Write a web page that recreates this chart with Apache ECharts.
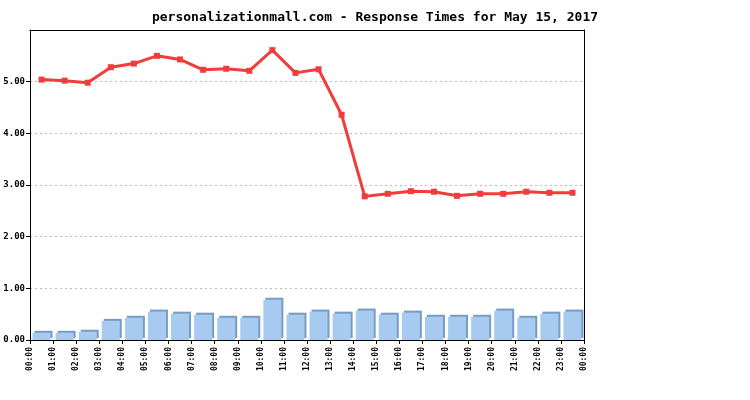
<!DOCTYPE html>
<html>
<head>
<meta charset="utf-8">
<script src="https://cdn.jsdelivr.net/npm/echarts@6/dist/echarts.min.js"></script>
<style>html,body{margin:0;padding:0;background:#fff}#c{width:750px;height:400px}</style>
</head>
<body>
<div id="c"></div>
<script>
const titleText = 'personalizationmall.com - Response Times for May 15, 2017';
const hourLabels = ['00:00','01:00','02:00','03:00','04:00','05:00','06:00','07:00','08:00','09:00','10:00','11:00','12:00','13:00','14:00','15:00','16:00','17:00','18:00','19:00','20:00','21:00','22:00','23:00','00:00'];
const responseTimes = [5.04,5.02,4.98,5.28,5.35,5.50,5.43,5.23,5.25,5.21,5.61,5.17,5.24,4.36,2.78,2.83,2.88,2.87,2.79,2.83,2.83,2.87,2.85,2.85];
const barValues = [0.14,0.14,0.16,0.37,0.43,0.55,0.51,0.49,0.43,0.43,0.78,0.49,0.55,0.51,0.57,0.49,0.53,0.45,0.45,0.45,0.57,0.43,0.51,0.55];

const mono = '"DejaVu Sans Mono", "Liberation Mono", monospace';
const chart = echarts.init(document.getElementById('c'), null, {renderer: 'canvas'});
const barData = barValues.map((v, i) => [i + 0.5, v]);
const lineData = responseTimes.map((v, i) => [i + 0.5, v]);
const frameAxis = {
  min: 0, axisLine: {show: true, onZero: false, lineStyle: {color: '#000', width: 1}},
  axisTick: {show: false}, axisLabel: {show: false}, splitLine: {show: false}
};

chart.setOption({
  animation: false,
  backgroundColor: '#fff',
  title: {
    text: titleText,
    left: 'center',
    top: 6,
    textStyle: {fontFamily: mono, fontSize: 13, fontWeight: 'bold', color: '#000'}
  },
  grid: {left: 30, right: 166, top: 30, bottom: 60},
  xAxis: [{
    type: 'value', min: 0, max: 24, interval: 1,
    axisLine: {show: true, lineStyle: {color: '#000', width: 1}},
    axisTick: {show: true, length: 4, lineStyle: {color: '#000'}},
    splitLine: {show: false},
    axisLabel: {
      rotate: 90, margin: 7, fontFamily: mono, fontSize: 8, fontWeight: 'bold', color: '#000',
      showMinLabel: true, showMaxLabel: true,
      formatter: v => hourLabels[Math.round(v)]
    }
  }, Object.assign({type: 'value', position: 'top', max: 24}, frameAxis)],
  yAxis: [{
    type: 'value', min: 0, max: 6, interval: 1,
    axisLine: {show: true, lineStyle: {color: '#000', width: 1}},
    axisTick: {show: true, length: 4, lineStyle: {color: '#000'}},
    splitLine: {show: true, lineStyle: {color: '#bbb', type: [2, 3], width: 1}},
    axisLabel: {
      margin: 5, fontFamily: mono, fontSize: 9, fontWeight: 'bold', color: '#000',
      showMaxLabel: false,
      formatter: v => v.toFixed(2)
    }
  }, Object.assign({type: 'value', position: 'right', max: 6}, frameAxis)],
  series: [
    {
      type: 'bar', data: barData, barWidth: 18,
      itemStyle: {color: '#a6caf0', shadowColor: '#7a9cc0', shadowOffsetX: 2, shadowOffsetY: -2, shadowBlur: 0}
    },
    {
      type: 'line', data: lineData,
      lineStyle: {color: '#f23c3c', width: 3},
      itemStyle: {color: '#f23c3c'},
      symbol: 'rect', symbolSize: 6, showSymbol: true
    }
  ]
});
</script>
</body>
</html>
